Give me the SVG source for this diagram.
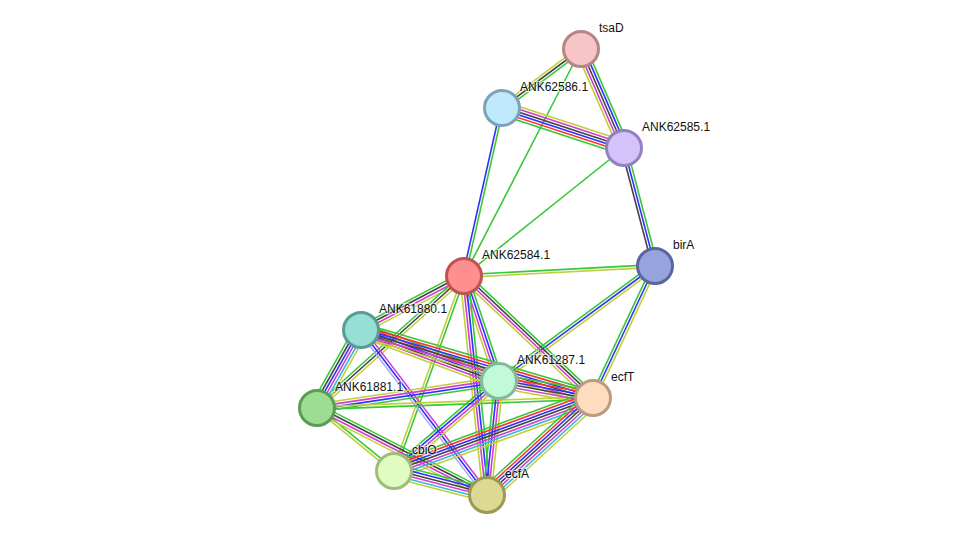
<svg xmlns="http://www.w3.org/2000/svg" width="976" height="541" viewBox="0 0 976 541">
<style>
.e line{stroke-width:1.6;fill:none;vector-effect:non-scaling-stroke}
.g{stroke:#38c838}.r{stroke:#ff3030}.b{stroke:#3030ff}.k{stroke:#444}.m{stroke:#d040d0}.c{stroke:#38b8dc}.y{stroke:#c0d038}.h{stroke:#a8a8f4}
.n circle{stroke-width:3}
text{font-family:"Liberation Sans",Arial,sans-serif;font-size:12px;fill:#111;stroke:#fff;stroke-width:2.5;stroke-opacity:0.55;paint-order:stroke}
</style>
<rect width="976" height="541" fill="#fff"/>
<g id="connectors">
<g class="e" transform="translate(581 49) rotate(143.25) scale(1 1.35)"><line x2="98.6" y1="-2" y2="-2" class="g"/><line x2="98.6" class="k"/><line x2="98.6" y1="2" y2="2" class="y"/></g>
<g class="e" transform="translate(581 49) rotate(66.53) scale(1 1.35)"><line x2="107.9" y1="-4" y2="-4" class="g"/><line x2="107.9" y1="-2" y2="-2" class="b"/><line x2="107.9" class="k"/><line x2="107.9" y1="2" y2="2" class="m"/><line x2="107.9" y1="4" y2="4" class="y"/></g>
<g class="e" transform="translate(581 49) rotate(117.26) scale(1 1.35)"><line x2="255.4" class="g"/></g>
<g class="e" transform="translate(502 108) rotate(18.15) scale(1 1.35)"><line x2="128.4" y1="5" y2="5" class="g"/><line x2="128.4" y1="3" y2="3" class="r"/><line x2="128.4" y1="1" y2="1" class="b"/><line x2="128.4" y1="-1" y2="-1" class="k"/><line x2="128.4" y1="-3" y2="-3" class="m"/><line x2="128.4" y1="-5" y2="-5" class="y"/></g>
<g class="e" transform="translate(502 108) rotate(102.74) scale(1 1.35)"><line x2="172.2" y1="-1" y2="-1" class="g"/><line x2="172.2" y1="1" y2="1" class="b"/></g>
<g class="e" transform="translate(624 148) rotate(141.34) scale(1 1.35)"><line x2="204.9" class="g"/></g>
<g class="e" transform="translate(624 148) rotate(75.28) scale(1 1.35)"><line x2="122" y1="-2" y2="-2" class="g"/><line x2="122" class="b"/><line x2="122" y1="2" y2="2" class="k"/></g>
<g class="e" transform="translate(464 276) rotate(-3) scale(1 1.35)"><line x2="191.3" y1="-1" y2="-1" class="g"/><line x2="191.3" y1="1" y2="1" class="y"/></g>
<g class="e" transform="translate(655 266) rotate(143.6) scale(1 1.35)"><line x2="193.8" y1="2" y2="2" class="g"/><line x2="193.8" class="b"/><line x2="193.8" y1="-2" y2="-2" class="y"/></g>
<g class="e" transform="translate(655 266) rotate(115.16) scale(1 1.35)"><line x2="145.8" y1="2" y2="2" class="g"/><line x2="145.8" class="b"/><line x2="145.8" y1="-2" y2="-2" class="y"/></g>
<g class="e" transform="translate(464 276) rotate(43.4) scale(1 1.35)"><line x2="177.6" y1="-3" y2="-3" class="g"/><line x2="177.6" y1="-1" y2="-1" class="k"/><line x2="177.6" y1="1" y2="1" class="m"/><line x2="177.6" y1="3" y2="3" class="y"/></g>
<g class="e" transform="translate(464 276) rotate(71.57) scale(1 1.35)"><line x2="110.7" y1="-3" y2="-3" class="g"/><line x2="110.7" y1="-1" y2="-1" class="b"/><line x2="110.7" y1="1" y2="1" class="m"/><line x2="110.7" y1="3" y2="3" class="y"/></g>
<g class="e" transform="translate(464 276) rotate(152.33) scale(1 1.35)"><line x2="116.3" y1="3" y2="3" class="g"/><line x2="116.3" y1="1" y2="1" class="k"/><line x2="116.3" y1="-1" y2="-1" class="m"/><line x2="116.3" y1="-3" y2="-3" class="y"/></g>
<g class="e" transform="translate(464 276) rotate(138.08) scale(1 1.35)"><line x2="197.6" y1="2" y2="2" class="g"/><line x2="197.6" class="k"/><line x2="197.6" y1="-2" y2="-2" class="y"/></g>
<g class="e" transform="translate(464 276) rotate(109.75) scale(1 1.35)"><line x2="207.2" y1="-1" y2="-1" class="g"/><line x2="207.2" y1="1" y2="1" class="y"/></g>
<g class="e" transform="translate(464 276) rotate(84) scale(1 1.35)"><line x2="220.2" y1="-3" y2="-3" class="g"/><line x2="220.2" y1="-1" y2="-1" class="b"/><line x2="220.2" y1="1" y2="1" class="m"/><line x2="220.2" y1="3" y2="3" class="y"/></g>
<g class="e" transform="translate(361 330) rotate(20.28) scale(1 1.35)"><line x2="147.1" y1="-5" y2="-5" class="g"/><line x2="147.1" y1="-3" y2="-3" class="r"/><line x2="147.1" y1="-1" y2="-1" class="b"/><line x2="147.1" y1="1" y2="1" class="k"/><line x2="147.1" y1="3" y2="3" class="m"/><line x2="147.1" y1="5" y2="5" class="y"/></g>
<g class="e" transform="translate(361 330) rotate(16.34) scale(1 1.35)"><line x2="241.8" y1="-5" y2="-5" class="g"/><line x2="241.8" y1="-3" y2="-3" class="r"/><line x2="241.8" y1="-1" y2="-1" class="b"/><line x2="241.8" y1="1" y2="1" class="k"/><line x2="241.8" y1="3" y2="3" class="m"/><line x2="241.8" y1="5" y2="5" class="y"/></g>
<g class="e" transform="translate(361 330) rotate(119.43) scale(1 1.35)"><line x2="89.6" y1="5" y2="5" class="g"/><line x2="89.6" y1="3" y2="3" class="k"/><line x2="89.6" y1="1" y2="1" class="b"/><line x2="89.6" y1="-1" y2="-1" class="m"/><line x2="89.6" y1="-3" y2="-3" class="c"/><line x2="89.6" y1="-5" y2="-5" class="y"/></g>
<g class="e" transform="translate(361 330) rotate(52.63) scale(1 1.35)"><line x2="207.6" y1="-2" y2="-2" class="m"/><line x2="207.6" class="b"/><line x2="207.6" y1="2" y2="2" class="h"/></g>
<g class="e" transform="translate(317 408) rotate(-8.44) scale(1 1.35)"><line x2="184" y1="3" y2="3" class="g"/><line x2="184" y1="1" y2="1" class="b"/><line x2="184" y1="-1" y2="-1" class="m"/><line x2="184" y1="-3" y2="-3" class="y"/></g>
<g class="e" transform="translate(317 408) rotate(-2.07) scale(1 1.35)"><line x2="276.2" y1="1" y2="1" class="g"/><line x2="276.2" y1="-1" y2="-1" class="y"/></g>
<g class="e" transform="translate(317 408) rotate(39.29) scale(1 1.35)"><line x2="99.5" y1="-1" y2="-1" class="g"/><line x2="99.5" y1="1" y2="1" class="y"/></g>
<g class="e" transform="translate(317 408) rotate(27.1) scale(1 1.35)"><line x2="191" y1="-3" y2="-3" class="g"/><line x2="191" y1="-1" y2="-1" class="k"/><line x2="191" y1="1" y2="1" class="m"/><line x2="191" y1="3" y2="3" class="y"/></g>
<g class="e" transform="translate(499 381) rotate(10.25) scale(1 1.35)"><line x2="95.5" y1="-5" y2="-5" class="g"/><line x2="95.5" y1="-3" y2="-3" class="r"/><line x2="95.5" y1="-1" y2="-1" class="b"/><line x2="95.5" y1="1" y2="1" class="k"/><line x2="95.5" y1="3" y2="3" class="m"/><line x2="95.5" y1="5" y2="5" class="y"/></g>
<g class="e" transform="translate(499 381) rotate(139.4) scale(1 1.35)"><line x2="138.3" y1="3" y2="3" class="g"/><line x2="138.3" y1="1" y2="1" class="b"/><line x2="138.3" y1="-1" y2="-1" class="m"/><line x2="138.3" y1="-3" y2="-3" class="y"/></g>
<g class="e" transform="translate(499 381) rotate(96) scale(1 1.35)"><line x2="114.6" y1="3" y2="3" class="g"/><line x2="114.6" y1="1" y2="1" class="b"/><line x2="114.6" y1="-1" y2="-1" class="m"/><line x2="114.6" y1="-3" y2="-3" class="y"/></g>
<g class="e" transform="translate(593 398) rotate(159.85) scale(1 1.35)"><line x2="212" y1="6" y2="6" class="g"/><line x2="212" y1="4" y2="4" class="r"/><line x2="212" y1="2" y2="2" class="b"/><line x2="212" class="k"/><line x2="212" y1="-2" y2="-2" class="m"/><line x2="212" y1="-4" y2="-4" class="c"/><line x2="212" y1="-6" y2="-6" class="y"/></g>
<g class="e" transform="translate(593 398) rotate(137.54) scale(1 1.35)"><line x2="143.7" y1="6" y2="6" class="g"/><line x2="143.7" y1="4" y2="4" class="r"/><line x2="143.7" y1="2" y2="2" class="b"/><line x2="143.7" class="k"/><line x2="143.7" y1="-2" y2="-2" class="m"/><line x2="143.7" y1="-4" y2="-4" class="c"/><line x2="143.7" y1="-6" y2="-6" class="y"/></g>
<g class="e" transform="translate(394 471) rotate(14.47) scale(1 1.35)"><line x2="96" y1="-5" y2="-5" class="g"/><line x2="96" y1="-3" y2="-3" class="b"/><line x2="96" y1="-1" y2="-1" class="k"/><line x2="96" y1="1" y2="1" class="m"/><line x2="96" y1="3" y2="3" class="c"/><line x2="96" y1="5" y2="5" class="y"/></g>
</g>
<g class="n">
<g id="tsaD"><circle cx="581" cy="49" r="17.5" fill="#f7c5c5" stroke="#b88585"/></g>
<g id="ANK62586.1"><circle cx="502" cy="108" r="17.5" fill="#c1e9fc" stroke="#7ca3bc"/></g>
<g id="ANK62585.1"><circle cx="624" cy="148" r="17.5" fill="#d4c2fa" stroke="#9480c0"/></g>
<g id="birA"><circle cx="655" cy="266" r="17.5" fill="#97a3dd" stroke="#5a669f"/></g>
<g id="ANK62584.1"><circle cx="464" cy="276" r="17.5" fill="#ff8f8f" stroke="#c05252"/></g>
<g id="ANK61880.1"><circle cx="361" cy="330" r="17.5" fill="#97ded5" stroke="#5a9c95"/></g>
<g id="ANK61287.1"><circle cx="499" cy="381" r="17.5" fill="#c2fad8" stroke="#82bb99"/></g>
<g id="ecfT"><circle cx="593" cy="398" r="17.5" fill="#fddcbf" stroke="#bb9a7e"/></g>
<g id="ANK61881.1"><circle cx="317" cy="408" r="17.5" fill="#9ddd93" stroke="#5e9c56"/></g>
<g id="cbiO"><circle cx="394" cy="471" r="17.5" fill="#e0fcc0" stroke="#a0bb80"/></g>
<g id="ecfA"><circle cx="487" cy="495" r="17.5" fill="#dcd995" stroke="#9c9956"/></g>
</g>
<g id="labels">
<text x="599" y="32">tsaD</text>
<text x="520" y="91">ANK62586.1</text>
<text x="642" y="131">ANK62585.1</text>
<text x="673" y="249">birA</text>
<text x="482" y="259">ANK62584.1</text>
<text x="379" y="313">ANK61880.1</text>
<text x="517" y="364">ANK61287.1</text>
<text x="611" y="381">ecfT</text>
<text x="335" y="391">ANK61881.1</text>
<text x="412" y="454">cbiO</text>
<text x="505" y="478">ecfA</text>
</g>
</svg>
